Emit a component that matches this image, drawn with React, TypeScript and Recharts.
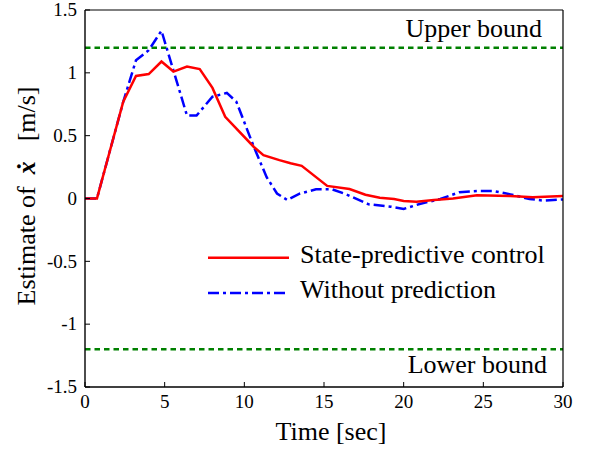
import React from 'react';
import {
  LineChart,
  Line,
  XAxis,
  YAxis,
  ReferenceLine,
  Legend,
} from 'recharts';

// Time stamps [sec] and velocity estimates [m/s] for each controller
const predictiveTime = [0, 0.75, 2.4, 3.2, 4.0, 4.8, 5.55, 6.4, 7.2, 8.0, 8.8, 10.6, 11.2, 12.2, 12.9, 13.6, 15.2, 16.6, 17.6, 18.5, 19.4, 20.0, 20.8, 21.9, 23.1, 24.6, 26.7, 28.1, 30];
const predictiveVelocity = [0, 0, 0.77, 0.975, 0.99, 1.09, 1.01, 1.05, 1.03, 0.88, 0.65, 0.41, 0.345, 0.305, 0.28, 0.26, 0.1, 0.075, 0.03, 0.006, -0.004, -0.02, -0.025, -0.012, 0.0, 0.025, 0.02, 0.01, 0.02];

const plainTime = [0, 0.75, 2.4, 3.2, 4.0, 4.8, 6.4, 7.0, 8.0, 8.9, 9.5, 10.6, 11.4, 12.05, 12.7, 13.5, 14.5, 15.5, 16.4, 17.8, 19.2, 20.0, 21.0, 22.3, 23.5, 24.6, 25.6, 26.7, 27.9, 28.8, 30];
const plainVelocity = [0, 0, 0.77, 1.1, 1.18, 1.335, 0.66, 0.66, 0.81, 0.84, 0.77, 0.41, 0.17, 0.04, -0.012, 0.04, 0.073, 0.073, 0.033, -0.046, -0.065, -0.083, -0.044, -0.004, 0.05, 0.06, 0.06, 0.033, -0.004, -0.017, -0.007];

const upperBound = 1.2;
const lowerBound = -1.2;

const xTicks = [0, 5, 10, 15, 20, 25, 30];
const yTicks = [-1.5, -1, -0.5, 0, 0.5, 1, 1.5];

const seriesNames = ['State-predictive control', 'Without prediction'];

const predictiveData = predictiveTime.map((t, i) => ({ t, v: predictiveVelocity[i] }));
const plainData = plainTime.map((t, i) => ({ t, v: plainVelocity[i] }));

const FONT = 'Liberation Serif, Times New Roman, serif';

const seriesStyle: Record<string, { color: string; dash?: string }> = {
  [seriesNames[0]]: { color: '#ff0000' },
  [seriesNames[1]]: { color: '#0000ff', dash: '11 4 3 4' },
};

const BottomTick = (props: any) => {
  const { x, y, payload } = props;
  return (
    <g>
      <line x1={x} y1={y} x2={x} y2={y - 5} stroke="#000" strokeWidth={1} />
      <text x={x} y={y + 21} textAnchor="middle" fontFamily={FONT} fontSize={19} fill="#000">
        {String(payload.value)}
      </text>
    </g>
  );
};

const TopTick = (props: any) => {
  const { x, y } = props;
  return <line x1={x} y1={y} x2={x} y2={y + 5} stroke="#000" strokeWidth={1} />;
};

const LeftTick = (props: any) => {
  const { x, y, payload } = props;
  return (
    <g>
      <line x1={x} y1={y} x2={x + 5} y2={y} stroke="#000" strokeWidth={1} />
      <text x={x - 8} y={y} dy="0.33em" textAnchor="end" fontFamily={FONT} fontSize={19} fill="#000">
        {String(payload.value)}
      </text>
    </g>
  );
};

const RightTick = (props: any) => {
  const { x, y } = props;
  return <line x1={x} y1={y} x2={x - 5} y2={y} stroke="#000" strokeWidth={1} />;
};

const XTitle = (props: any) => {
  const vb = props.viewBox || {};
  return (
    <text x={vb.x + vb.width / 2 + 7} y={vb.y + 53} textAnchor="middle" fontFamily={FONT} fontSize={26} fill="#000">
      Time [sec]
    </text>
  );
};

const YTitle = (props: any) => {
  const vb = props.viewBox || {};
  const bx = vb.x + 35;
  const by = vb.y + vb.height / 2 + 107;
  return (
    <text x={bx} y={by} transform={`rotate(-90, ${bx}, ${by})`} fontFamily={FONT} fontSize={26} fill="#000">
      <tspan>Estimate of</tspan>
      <tspan dx={12} fontWeight="bold" fontStyle="italic">ẋ</tspan>
      <tspan dx={20}>[m/s]</tspan>
    </text>
  );
};

const boundLabel = (text: string, dxRight: number, dy: number) => (props: any) => {
  const vb = props.viewBox || {};
  return (
    <text x={vb.x + vb.width - dxRight} y={vb.y + dy} textAnchor="end" fontFamily={FONT} fontSize={26} fill="#000">
      {text}
    </text>
  );
};

const LegendBox = (props: any) => {
  const payload = props.payload || [];
  return (
    <svg width={380} height={75} style={{ display: 'block' }}>
      {payload.map((entry: any, i: number) => {
        const st = seriesStyle[entry.value] || { color: entry.color };
        const lineY = 21.7 + i * 35.3;
        return (
          <g key={entry.value}>
            <line x1={8} y1={lineY} x2={89} y2={lineY} stroke={st.color} strokeWidth={2.5} strokeDasharray={st.dash} />
            <text x={100} y={lineY + 5.3} fontFamily={FONT} fontSize={26} fill="#000">
              {entry.value}
            </text>
          </g>
        );
      })}
    </svg>
  );
};

export default function App() {
  return (
    <div style={{ position: 'absolute', left: 0, top: 0, background: '#fff' }}>
      <LineChart width={592} height={455} margin={{ top: 0, right: 0, bottom: 0, left: 0 }}>
        <XAxis
          dataKey="t"
          type="number"
          domain={[0, 30]}
          ticks={xTicks}
          allowDataOverflow
          height={68}
          tickSize={0}
          tickMargin={0}
          tickLine={false}
          tick={<BottomTick />}
          axisLine={{ stroke: '#000', strokeWidth: 1.4 }}
          label={<XTitle />}
        />
        <XAxis
          xAxisId="top"
          orientation="top"
          type="number"
          domain={[0, 30]}
          ticks={xTicks}
          height={10}
          tickSize={0}
          tickMargin={0}
          tickLine={false}
          tick={<TopTick />}
          axisLine={{ stroke: '#000', strokeWidth: 1.2 }}
        />
        <YAxis
          type="number"
          domain={[-1.5, 1.5]}
          ticks={yTicks}
          allowDataOverflow
          width={85}
          tickSize={0}
          tickMargin={0}
          tickLine={false}
          tick={<LeftTick />}
          axisLine={{ stroke: '#000', strokeWidth: 1.4 }}
          label={<YTitle />}
        />
        <YAxis
          yAxisId="right"
          orientation="right"
          type="number"
          domain={[-1.5, 1.5]}
          ticks={yTicks}
          width={29}
          tickSize={0}
          tickMargin={0}
          tickLine={false}
          tick={<RightTick />}
          axisLine={{ stroke: '#000', strokeWidth: 1.2 }}
        />
        <ReferenceLine
          y={upperBound}
          stroke="#008000"
          strokeWidth={2.5}
          strokeDasharray="5.5 4"
          label={boundLabel('Upper bound', 21, -10.7)}
        />
        <ReferenceLine
          y={lowerBound}
          stroke="#008000"
          strokeWidth={2.5}
          strokeDasharray="5.5 4"
          label={boundLabel('Lower bound', 16, 24)}
        />
        <Line
          data={plainData}
          dataKey="v"
          name={seriesNames[1]}
          type="linear"
          stroke="#0000ff"
          strokeWidth={2.5}
          strokeDasharray="11 4 3 4"
          dot={false}
          activeDot={false}
          isAnimationActive={false}
        />
        <Line
          data={predictiveData}
          dataKey="v"
          name={seriesNames[0]}
          type="linear"
          stroke="#ff0000"
          strokeWidth={2.5}
          dot={false}
          activeDot={false}
          isAnimationActive={false}
        />
        <Legend
          layout="vertical"
          align="center"
          verticalAlign="middle"
          payload={seriesNames.map((n) => ({ value: n, type: 'line', color: seriesStyle[n].color }))}
          wrapperStyle={{ left: 200, top: 236, width: 380, height: 75 }}
          content={<LegendBox />}
        />
      </LineChart>
    </div>
  );
}
